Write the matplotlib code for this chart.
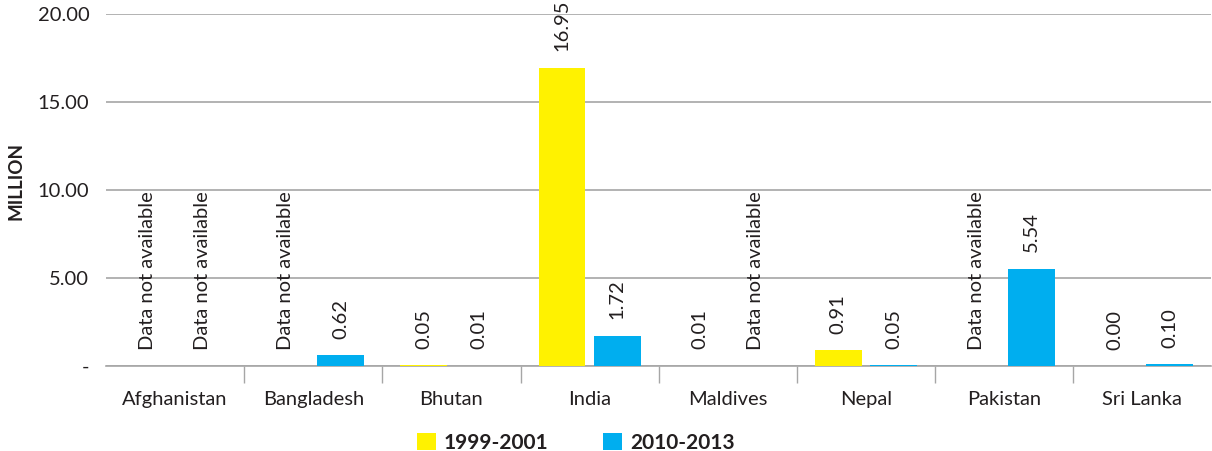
import matplotlib
matplotlib.use('Agg')
import matplotlib.pyplot as plt
import numpy as np

plt.rcParams['font.family'] = ['Lato', 'DejaVu Sans']

countries = ['Afghanistan', 'Bangladesh', 'Bhutan', 'India', 'Maldives',
             'Nepal', 'Pakistan', 'Sri Lanka']
# None = data not available
early = [None, None, 0.05, 16.95, 0.01, 0.91, None, 0.00]
late = [None, 0.62, 0.01, 1.72, None, 0.05, 5.54, 0.10]
series_names = ['1999-2001', '2010-2013']
colors = ['#FFF200', '#00AEEF']
txt = '#231F20'

fig = plt.figure(figsize=(12.12, 4.51), dpi=100)
ax = fig.add_axes([0.0875, 0.188, 0.912, 0.781])

x = np.arange(len(countries))
width = 0.34
offsets = [-0.2, 0.2]

for vals, off, col, name in zip([early, late], offsets, colors, series_names):
    h = [v if v is not None else 0 for v in vals]
    bars = ax.bar(x + off, h, width, color=col, label=name, zorder=3)
    for bar, v in zip(bars, vals):
        lab = 'Data not available' if v is None else '{:.2f}'.format(v)
        ax.annotate(lab, xy=(bar.get_x() + bar.get_width() / 2, bar.get_height()),
                    xytext=(0, 12), textcoords='offset points',
                    rotation=90, ha='center', va='bottom',
                    fontsize=14.5, color=txt)

ax.set_xlim(-0.5, len(countries) - 0.5)
ax.set_ylim(0, 20)
ax.set_yticks([0, 5, 10, 15, 20])
ax.set_yticklabels(['-', '5.00', '10.00', '15.00', '20.00'])
ax.yaxis.grid(True, color='#A6A6A6', linewidth=1.2, zorder=0)
ax.set_xticks(x)
ax.set_xticklabels(countries)
ax.set_xticks(np.arange(len(countries) + 1)[1:-1] - 0.5, minor=True)
ax.tick_params(axis='x', which='major', length=0, pad=18, labelsize=14.5, labelcolor=txt)
ax.tick_params(axis='x', which='minor', length=12, width=1, color='#A6A6A6')
ax.tick_params(axis='y', length=0, pad=12, labelsize=14.5, labelcolor=txt)
for s in ['top', 'right', 'left']:
    ax.spines[s].set_visible(False)
ax.spines['bottom'].set_color('#A6A6A6')
ax.spines['bottom'].set_linewidth(1.2)

fig.text(16 / 1212, 1 - 181 / 451, 'MILLION', rotation=90, ha='center', va='center',
         fontsize=13.5, fontweight='bold', color=txt)

leg = fig.legend(loc='lower center', bbox_to_anchor=(0.475, -0.045), ncol=2,
                 frameon=False, handlelength=0.9, handleheight=0.9,
                 handletextpad=0.4, columnspacing=2.6,
                 prop={'size': 15, 'weight': 'bold'})
for t in leg.get_texts():
    t.set_color(txt)

fig.savefig('out.png', dpi=100)
